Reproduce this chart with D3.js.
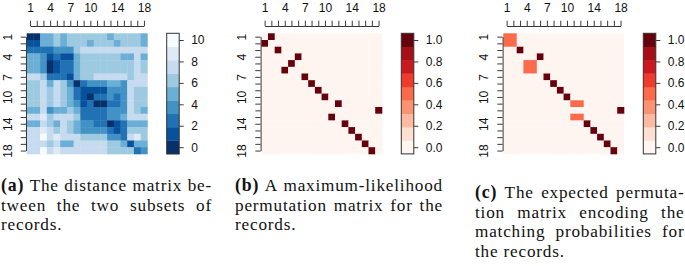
<!DOCTYPE html>
<html><head><meta charset="utf-8">
<script src="https://cdn.jsdelivr.net/npm/d3@7"></script>
<style>
html,body{margin:0;padding:0;background:#fff;}
svg{display:block;}
</style></head><body>
<svg id="chart" width="685" height="266"></svg>
<script>
// ---------------- data ----------------
const indices = d3.range(1, 19);              // record indices 1..18
const axisLabels = [1, 4, 7, 10, 14, 18];      // labelled ticks
const distTicks = [0, 2, 4, 6, 8, 10];
const probTicks = [0, 0.2, 0.4, 0.6, 0.8, 1.0];

// (a) distance matrix (rows = first subset, cols = second subset)
const distance = [
 [0.0,0.4,5.1,4.8,6.3,5.0,6.1,6.2,6.4,6.1,6.3,6.2,5.2,6.0,6.3,6.2,6.1,5.3],
 [1.1,1.0,5.3,4.9,6.1,5.2,6.2,6.3,6.0,5.4,6.2,6.4,6.1,5.3,6.2,6.1,6.3,5.1],
 [2.3,2.6,2.1,2.4,3.6,3.9,3.5,6.1,7.4,7.6,7.3,7.5,7.4,7.7,7.5,7.6,7.4,7.3],
 [5.0,4.8,3.8,1.2,2.3,1.4,1.1,5.1,6.2,6.3,6.1,6.0,6.2,6.4,5.1,5.3,7.5,5.0],
 [5.2,4.9,3.9,0.3,1.3,2.2,2.6,5.0,6.1,6.3,6.2,6.0,6.4,6.2,6.1,6.3,7.4,6.2],
 [5.1,5.0,3.7,0.1,1.4,2.4,2.3,5.2,6.3,6.1,6.2,6.3,6.1,6.0,6.2,6.4,7.6,6.1],
 [7.5,7.3,6.2,2.4,2.2,2.7,1.2,5.1,6.3,6.0,7.4,7.6,7.5,7.3,7.4,6.2,7.5,7.6],
 [6.2,6.1,7.4,5.0,7.3,6.2,3.8,0.2,2.4,3.6,3.9,3.7,5.1,4.9,3.8,7.5,7.4,7.6],
 [6.3,6.2,7.5,6.1,7.4,6.3,5.0,2.3,1.2,1.4,1.1,1.3,3.7,3.9,3.6,7.4,6.2,6.1],
 [6.1,6.3,7.6,6.2,7.5,6.0,5.2,2.6,1.3,0.3,2.4,2.2,3.8,2.5,3.7,7.3,6.3,6.2],
 [6.2,6.0,7.4,6.3,7.6,6.2,5.1,3.7,1.4,2.3,0.2,0.1,2.5,2.3,3.8,7.5,6.1,6.3],
 [5.0,5.2,7.5,3.9,5.1,4.9,6.2,5.0,2.5,2.2,2.4,2.6,3.7,3.6,3.9,7.4,6.2,5.1],
 [7.4,7.6,8.7,6.2,7.5,7.3,7.4,6.1,2.3,2.5,2.2,2.4,3.8,3.6,5.0,7.5,7.4,7.6],
 [5.1,5.0,7.4,6.2,5.2,7.5,6.1,4.9,3.8,3.7,2.4,2.6,0.2,1.3,2.5,5.0,5.2,4.9],
 [7.5,7.4,8.6,7.3,6.2,7.6,6.3,5.1,3.7,3.9,3.6,3.8,2.4,1.2,2.3,6.2,6.1,6.3],
 [7.4,7.5,9.9,7.6,8.7,7.4,7.5,7.3,6.2,6.1,6.3,6.0,3.8,3.7,2.5,7.4,8.6,6.2],
 [7.6,7.4,7.5,6.1,7.4,5.1,5.0,7.5,7.3,7.6,7.4,7.5,6.2,6.3,5.1,1.2,5.0,5.2],
 [7.5,7.3,9.8,7.4,8.8,7.5,7.6,7.4,7.5,7.3,7.4,7.6,6.1,6.2,6.3,6.0,2.4,3.8]
];

// (b) maximum-likelihood permutation: column matched to each row 1..18
const mlMatch = [2,1,3,6,5,4,7,8,9,10,12,18,11,13,14,15,16,17];

// (c) expected permutation matrix: non-zero entries [row, col, probability]
const expectedEntries = [
 [1,1,0.5],[1,2,0.5],[2,1,0.5],[2,2,0.5],[3,3,1],[4,6,1],
 [5,4,0.5],[5,5,0.5],[6,4,0.5],[6,5,0.5],[7,7,1],[8,8,1],[9,9,1],[10,10,1],
 [11,11,0.5],[11,12,0.5],[12,18,1],[13,11,0.5],[13,12,0.5],
 [14,13,1],[15,14,1],[16,15,1],[17,16,1],[18,17,1]
];

const captionLabels = ["(a)", "(b)", "(c)"];
const captionLines = [
 ["The distance matrix be-", "tween the two subsets of", "records."],
 ["A maximum-likelihood", "permutation matrix for the", "records."],
 ["The expected permuta-", "tion matrix encoding the", "matching probabilities for", "the records."]
];

// ---------------- build cell tables ----------------
const cellsA = [];
distance.forEach((row, i) => row.forEach((v, j) => cellsA.push({r: i + 1, c: j + 1, v})));
const cellsB = [];
indices.forEach(r => indices.forEach(c => cellsB.push({r, c, v: mlMatch[r - 1] === c ? 1 : 0})));
const expLookup = new Map(expectedEntries.map(([r, c, p]) => [r + "-" + c, p]));
const cellsC = [];
indices.forEach(r => indices.forEach(c => cellsC.push({r, c, v: expLookup.get(r + "-" + c) || 0})));

// ---------------- drawing ----------------
const svg = d3.select("#chart");
const blues = d3.schemeBlues[9].slice().reverse();   // low distance = dark
const reds = d3.schemeReds[9];

const TOP = 33.3, SIZE = 120.6, CBW = 12.5;
const FONT = "'Liberation Sans', Arial, Helvetica, sans-serif";

const panels = [
  {left: 26.7, cells: cellsA, max: 10, colors: blues, ticks: distTicks, fmt: d3.format("d")},
  {left: 261.3, cells: cellsB, max: 1, colors: reds, ticks: probTicks, fmt: d3.format(".1f")},
  {left: 503.3, cells: cellsC, max: 1, colors: reds, ticks: probTicks, fmt: d3.format(".1f")}
];

panels.forEach(p => {
  const g = svg.append("g");
  const x = d3.scaleBand().domain(indices).range([p.left, p.left + SIZE]);
  const y = d3.scaleBand().domain(indices).range([TOP, TOP + SIZE]);
  const half = p.max / 16;  // bins centred on 0 .. max
  const color = d3.scaleQuantize().domain([-half, p.max + half]).range(p.colors);

  g.append("g").selectAll("rect").data(p.cells).join("rect")
    .attr("x", d => x(d.c)).attr("y", d => y(d.r))
    .attr("width", x.bandwidth() + 0.4).attr("height", y.bandwidth() + 0.4)
    .attr("fill", d => color(d.v));

  // top axis
  const xa = d3.scaleLinear().domain([1, 18]).range([x(1) + x.bandwidth() / 2, x(18) + x.bandwidth() / 2]);
  const topAxis = g.append("g").attr("transform", "translate(0,26)")
    .call(d3.axisTop(xa).tickValues(indices).tickSize(5.3).tickSizeOuter(0).tickPadding(9.2)
      .tickFormat(d => axisLabels.includes(d) ? d : ""));
  // left axis
  const ya = d3.scaleLinear().domain([1, 18]).range([y(1) + y.bandwidth() / 2, y(18) + y.bandwidth() / 2]);
  const leftAxis = g.append("g").attr("transform", `translate(${p.left - 0.7},0)`)
    .call(d3.axisLeft(ya).tickValues(indices).tickSize(5.3).tickSizeOuter(0)
      .tickFormat(d => axisLabels.includes(d) ? d : ""));
  leftAxis.selectAll(".tick text")
    .attr("x", null).attr("dy", null)
    .attr("text-anchor", "middle")
    .attr("transform", "translate(-14.3,0) rotate(-90)");
  [topAxis, leftAxis].forEach(a => {
    a.attr("font-family", FONT).attr("font-size", 12);
    a.selectAll("path,line").attr("stroke", "#3a3a3a");
    a.selectAll("text").attr("fill", "#111");
  });

  // colour bar
  const cbx = p.left + 140;
  const binH = SIZE / p.colors.length;
  g.append("g").selectAll("rect").data(p.colors).join("rect")
    .attr("x", cbx).attr("width", CBW)
    .attr("y", (c, k) => TOP + SIZE - (k + 1) * binH).attr("height", binH + 0.3)
    .attr("fill", c => c);
  g.append("rect").attr("x", cbx).attr("y", TOP).attr("width", CBW).attr("height", SIZE)
    .attr("fill", "none").attr("stroke", "#333").attr("stroke-width", 1);
  const cy = d3.scaleLinear().domain([0, p.max]).range([TOP + SIZE - binH / 2, TOP + binH / 2]);
  const cbAxis = g.append("g").attr("transform", `translate(${cbx + CBW},0)`)
    .call(d3.axisRight(cy).tickValues(p.ticks).tickFormat(p.fmt).tickSize(4.5).tickPadding(7.5));
  cbAxis.select(".domain").remove();
  cbAxis.attr("font-family", FONT).attr("font-size", 12);
  cbAxis.selectAll("line").attr("stroke", "#3a3a3a");
  cbAxis.selectAll("text").attr("fill", "#111");
});

// ---------------- captions (justified) ----------------
const CAP_FONT = "'Liberation Serif', 'Times New Roman', serif";
const CAP_SIZE = 17.2;
const capLayout = [
  {x: 1, w: 211, base: [190.5, 210.5, 230]},
  {x: 235, w: 208, base: [190.5, 210.5, 230]},
  {x: 475, w: 209.5, base: [198, 217.5, 237, 256.5]}
];
const capG = svg.append("g").attr("font-family", CAP_FONT).attr("font-size", CAP_SIZE)
  .attr("fill", "#111").attr("letter-spacing", "0.8px");
captionLines.forEach((lines, ci) => {
  const lay = capLayout[ci];
  lines.forEach((line, li) => {
    let words = line.split(" ");
    if (li === 0) words = [captionLabels[ci]].concat(words);
    const nodes = words.map((w, wi) => capG.append("text")
      .attr("y", lay.base[li])
      .attr("font-weight", (li === 0 && wi === 0) ? "bold" : "normal")
      .attr("font-size", (li === 0 && wi === 0) ? CAP_SIZE + 0.6 : CAP_SIZE)
      .text(w));
    const widths = nodes.map(n => n.node().getComputedTextLength());
    const total = d3.sum(widths);
    const justify = li < lines.length - 1 && words.length > 1;
    const gap = justify ? Math.max(3, (lay.w - total) / (words.length - 1)) : CAP_SIZE * 0.3;
    let cx = lay.x;
    nodes.forEach((n, k) => { n.attr("x", cx); cx += widths[k] + gap; });
  });
});
</script>
</body></html>
